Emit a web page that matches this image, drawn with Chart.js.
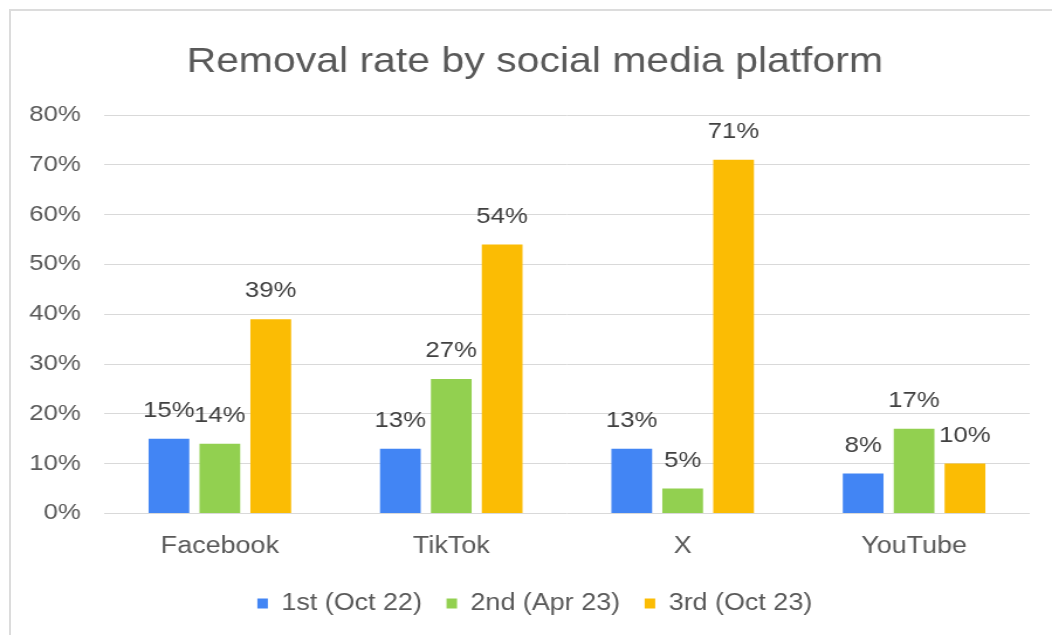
<!DOCTYPE html>
<html>
<head>
<meta charset="utf-8">
<script src="https://cdn.jsdelivr.net/npm/chart.js@4/dist/chart.umd.min.js"></script>
<style>
  html, body { margin: 0; padding: 0; background: #fff; overflow: hidden; }
  #frame {
    position: absolute; left: 9px; top: 9px; width: 2000px; height: 2000px;
    border-left: 2px solid #dcdcdc; border-top: 2px solid #dcdcdc;
  }
  #removalChart { position: absolute; left: 0; top: 0; }
</style>
</head>
<body>
<div id="frame"></div>
<!-- the reference is stretched sideways, so the canvas is drawn at 899px and shown at 1052px -->
<canvas id="removalChart" width="899" height="635" style="width:1052px;height:635px"></canvas>
<script>
const platforms = ["Facebook", "TikTok", "X", "YouTube"];
const seriesNames = ["1st (Oct 22)", "2nd (Apr 23)", "3rd (Oct 23)"];
const firstRound = [15, 13, 13, 8];
const secondRound = [14, 27, 5, 17];
const thirdRound = [39, 54, 71, 10];
const yTicks = [0, 10, 20, 30, 40, 50, 60, 70, 80];

const seriesColors = ["#4285f4", "#92d050", "#fbbc04"];
const textColor = "#595959";
const fontFamily = "'Liberation Sans', Arial, sans-serif";

// draw the value above each bar
const barValueLabels = {
  id: "barValueLabels",
  afterDatasetsDraw(chart) {
    const ctx = chart.ctx;
    ctx.save();
    ctx.font = "22px " + fontFamily;
    ctx.fillStyle = "#404040";
    ctx.textAlign = "center";
    ctx.textBaseline = "middle";
    chart.data.datasets.forEach((dataset, i) => {
      const meta = chart.getDatasetMeta(i);
      meta.data.forEach((bar, j) => {
        ctx.fillText(dataset.data[j] + "%", bar.x, bar.y - 28);
      });
    });
    ctx.restore();
  },
};

const ctx = document.getElementById("removalChart").getContext("2d");

new Chart(ctx, {
  type: "bar",
  data: {
    labels: platforms,
    datasets: [firstRound, secondRound, thirdRound].map((values, i) => ({
      label: seriesNames[i],
      data: values,
      backgroundColor: seriesColors[i],
      borderWidth: 0,
      categoryPercentage: 0.66,
      barPercentage: 0.8,
    })),
  },
  options: {
    responsive: false,
    animation: false,
    layout: {
      padding: { left: 15, right: 0, top: 0, bottom: 10 },
    },
    scales: {
      x: {
        grid: { display: false },
        border: { display: false },
        ticks: {
          color: textColor,
          font: { size: 23, family: fontFamily },
          padding: 11,
        },
      },
      y: {
        min: 0,
        max: 80,
        afterBuildTicks: (scale) => {
          scale.ticks = yTicks.map((v) => ({ value: v }));
        },
        afterFit: (scale) => {
          scale.width = 74;
        },
        grid: { color: "#d9d9d9", lineWidth: 1, drawTicks: false },
        border: { display: false },
        ticks: {
          color: textColor,
          font: { size: 22, family: fontFamily },
          padding: 20,
          callback: (v) => v + "%",
        },
      },
      // empty right-hand axis, only keeps the plot clear of the right edge
      yRight: {
        position: "right",
        grid: { display: false },
        border: { display: false },
        ticks: { display: false },
        afterFit: (scale) => {
          scale.width = 19;
        },
      },
    },
    plugins: {
      title: {
        display: true,
        text: "Removal rate by social media platform",
        color: textColor,
        font: { size: 35, family: fontFamily, weight: "normal" },
        padding: { top: 41, bottom: 32 },
      },
      legend: {
        position: "bottom",
        labels: {
          color: textColor,
          font: { size: 23, family: fontFamily },
          boxWidth: 9,
          boxHeight: 10,
          padding: 21,
        },
      },
      tooltip: { enabled: false },
    },
  },
  plugins: [barValueLabels],
});
</script>
</body>
</html>
